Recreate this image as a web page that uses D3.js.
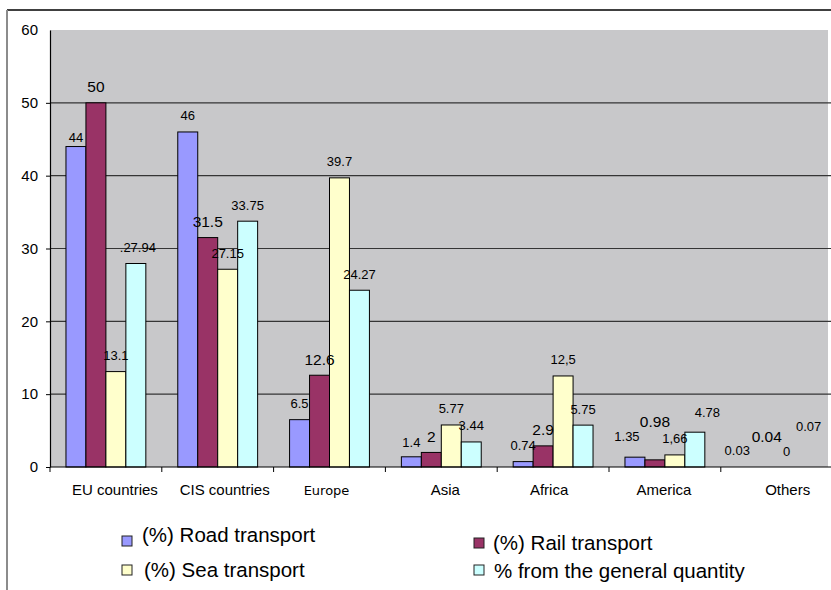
<!DOCTYPE html>
<html>
<head>
<meta charset="utf-8">
<script src="https://cdn.jsdelivr.net/npm/d3@7/dist/d3.min.js"></script>
<style>
  html, body { margin: 0; padding: 0; background: #fff; }
  svg { display: block; font-family: "Liberation Sans", Arial, sans-serif; }
</style>
</head>
<body>
<svg id="chart" width="831" height="590"></svg>
<script>
// data
const categories = ['EU countries', 'CIS countries', 'Europe', 'Asia', 'Africa', 'America', 'Others'];
const seriesNames = ['(%) Road transport', '(%) Rail transport', '(%) Sea transport', '% from the general quantity'];
const roadValues = [44, 46, 6.5, 1.4, 0.74, 1.35, 0.03];
const railValues = [50, 31.5, 12.6, 2, 2.9, 0.98, 0.04];
const seaValues = [13.1, 27.15, 39.7, 5.77, 12.5, 1.66, 0];
const generalValues = [27.94, 33.75, 24.27, 3.44, 5.75, 4.78, 0.07];
// labels as printed on the chart
const roadLabels = ['44', '46', '6.5', '1.4', '0.74', '1.35', '0.03'];
const railLabels = ['50', '31.5', '12.6', '2', '2.9', '0.98', '0.04'];
const seaLabels = ['13.1', '27.15', '39.7', '5.77', '12,5', '1,66', '0'];
const generalLabels = ['.27.94', '33.75', '24.27', '3.44', '5.75', '4.78', '0.07'];
const yTicks = [0, 10, 20, 30, 40, 50, 60];

const colors = ['#9999ff', '#993366', '#ffffcc', '#ccffff'];
const series = [
    { name: seriesNames[0], values: roadValues, labels: roadLabels },
    { name: seriesNames[1], values: railValues, labels: railLabels },
    { name: seriesNames[2], values: seaValues, labels: seaLabels },
    { name: seriesNames[3], values: generalValues, labels: generalLabels }
];

// labels that were dragged by hand in the original: [series, category] -> [dx, dy]
const labelNudge = {
    '0-0': [0, 6.5],
    '0-3': [0, 1.5],
    '0-5': [-8, -5],
    '1-5': [0, -22.5],
    '3-5': [12.5, -3.5],
    '0-6': [-9.5, 0],
    '1-6': [0, -14.5],
    '3-6': [2, -24],
    '3-0': [2, 0]
};
// category labels are not quite centred in the original
const catNudge = [9, 7, -3, 4, -4, -1, 11];

const svg = d3.select('#chart');
const plotLeft = 50, plotRight = 832.6, plotTop = 30, plotBottom = 467;

// outer chart border (top and left visible)
svg.append('line')
    .attr('x1', 7).attr('x2', 831).attr('y1', 10).attr('y2', 10)
    .attr('stroke', '#000').attr('stroke-width', 1.5);
svg.append('line')
    .attr('x1', 7).attr('x2', 7).attr('y1', 10).attr('y2', 590)
    .attr('stroke', '#8c8c8c').attr('stroke-width', 2);

const x0 = d3.scaleBand()
    .domain(categories)
    .range([plotLeft, plotRight]);

const x1 = d3.scaleBand()
    .domain(d3.range(series.length))
    .range([0, x0.bandwidth()])
    .paddingInner(0)
    .paddingOuter(0.8);

const y = d3.scaleLinear()
    .domain([0, 60])
    .range([plotBottom, plotTop]);

// plot background
svg.append('rect')
    .attr('x', plotLeft).attr('y', plotTop)
    .attr('width', 828 - plotLeft).attr('height', plotBottom - plotTop)
    .attr('fill', '#c8c8ca');

// gridlines
svg.append('g')
    .selectAll('line')
    .data(yTicks.filter(d => d > 0 && d < 60))
    .enter()
    .append('line')
    .attr('x1', plotLeft).attr('x2', 831)
    .attr('y1', d => y(d)).attr('y2', d => y(d))
    .attr('stroke', '#353535').attr('stroke-width', 1.2);

// y axis
const yAxis = d3.axisLeft(y)
    .tickValues(yTicks)
    .tickSize(4)
    .tickSizeOuter(0)
    .tickPadding(8)
    .tickFormat(d3.format('d'));

const gy = svg.append('g')
    .attr('transform', 'translate(' + plotLeft + ',0)')
    .call(yAxis);
gy.select('.domain').attr('stroke', '#000').attr('stroke-width', 1.2);
gy.selectAll('.tick line').attr('stroke', '#000');
gy.selectAll('.tick text')
    .attr('font-size', 15)
    .attr('font-family', '"Liberation Sans", Arial, sans-serif')
    .attr('fill', '#000');
gy.selectAll('.tick').filter(d => d === 60).select('line').remove();

// bars (values too small to show a pixel are left out, as in the original)
const groups = svg.append('g')
    .selectAll('g')
    .data(series)
    .enter()
    .append('g')
    .attr('fill', (d, i) => colors[i]);

groups.selectAll('rect')
    .data((s, si) => s.values
        .map((v, ci) => ({ si: si, ci: ci, v: v }))
        .filter(d => y(0) - y(d.v) >= 1))
    .enter()
    .append('rect')
    .attr('x', d => x0(categories[d.ci]) + x1(d.si))
    .attr('y', d => y(d.v))
    .attr('width', x1.bandwidth())
    .attr('height', d => y(0) - y(d.v))
    .attr('stroke', '#000')
    .attr('stroke-width', 1);

// x axis line and tick marks at category boundaries
svg.append('line')
    .attr('x1', plotLeft).attr('x2', 831)
    .attr('y1', plotBottom).attr('y2', plotBottom)
    .attr('stroke', '#000').attr('stroke-width', 1.2);

const boundaries = categories.map(c => x0(c));
svg.append('g')
    .selectAll('line')
    .data(boundaries)
    .enter()
    .append('line')
    .attr('x1', d => d).attr('x2', d => d)
    .attr('y1', plotBottom).attr('y2', plotBottom + 5)
    .attr('stroke', '#000');

// category labels
svg.append('g')
    .selectAll('text')
    .data(categories)
    .enter()
    .append('text')
    .attr('x', (d, i) => x0(d) + x0.bandwidth() / 2 + catNudge[i])
    .attr('y', 495)
    .attr('text-anchor', 'middle')
    .attr('font-size', d => d === 'Europe' ? 13 : 15)
    .attr('font-family', d => d === 'Europe' ? '"DejaVu Sans", sans-serif' : '"Liberation Sans", Arial, sans-serif')
    .attr('fill', '#000')
    .text(d => d);

// value labels
const labelData = [];
series.forEach((s, si) => {
    s.values.forEach((v, ci) => {
        labelData.push({ si: si, ci: ci, v: v, text: s.labels[ci] });
    });
});

svg.append('g')
    .selectAll('text')
    .data(labelData)
    .enter()
    .append('text')
    .attr('x', d => {
        const n = labelNudge[d.si + '-' + d.ci] || [0, 0];
        return x0(categories[d.ci]) + x1(d.si) + x1.bandwidth() / 2 + n[0];
    })
    .attr('y', d => {
        const n = labelNudge[d.si + '-' + d.ci] || [0, 0];
        const gap = d.si === 1 ? 10.5 : 11.5;
        return y(d.v) - gap + n[1];
    })
    .attr('text-anchor', 'middle')
    .attr('font-size', d => d.si === 1 ? 15.5 : 13)
    .attr('fill', '#000')
    .text(d => d.text);

// legend
const legendPos = [
    { sx: 122, sy: 536, tx: 142, ty: 542 },
    { sx: 474, sy: 538, tx: 493, ty: 550 },
    { sx: 122, sy: 565, tx: 144, ty: 577 },
    { sx: 474, sy: 565, tx: 494, ty: 578 }
];

const legend = svg.append('g')
    .selectAll('g')
    .data(series)
    .enter()
    .append('g');

legend.append('rect')
    .attr('x', (d, i) => legendPos[i].sx)
    .attr('y', (d, i) => legendPos[i].sy)
    .attr('width', 10)
    .attr('height', 10)
    .attr('fill', (d, i) => colors[i])
    .attr('stroke', '#222')
    .attr('stroke-width', 1);

legend.append('text')
    .attr('x', (d, i) => legendPos[i].tx)
    .attr('y', (d, i) => legendPos[i].ty)
    .attr('font-size', 20.5)
    .attr('fill', '#000')
    .text(d => d.name);
</script>
</body>
</html>
